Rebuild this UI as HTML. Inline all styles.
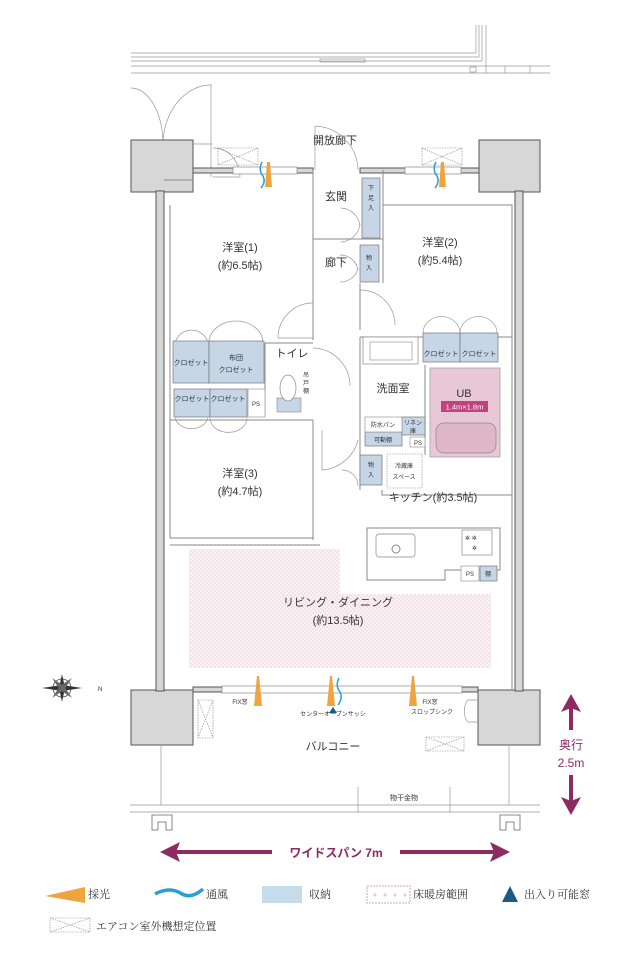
<!DOCTYPE html>
<html><head><meta charset="utf-8">
<style>
html,body{margin:0;padding:0;background:#fff;}
svg{display:block;font-family:"Liberation Sans","Noto Sans CJK JP",sans-serif;}
.t{font-size:11px;fill:#333;}
.s{font-size:7px;fill:#333;}
.ss{font-size:6px;fill:#333;}
.w{fill:#d7d7d7;stroke:#555;stroke-width:1;}
.l{stroke:#888;stroke-width:1;fill:none;}
.d{stroke:#999;stroke-width:0.7;fill:none;}
.b{fill:#c6d6e6;stroke:#777;stroke-width:0.7;}
.x{fill:none;stroke:#888;stroke-width:0.6;stroke-dasharray:1.5 1;}
</style></head><body>
<svg width="640" height="955" viewBox="0 0 640 955" xmlns="http://www.w3.org/2000/svg">
<defs>
<pattern id="pk" width="4" height="4" patternUnits="userSpaceOnUse"><rect width="4" height="4" fill="#fbf2f5"/><circle cx="1" cy="1" r="0.6" fill="#e3bccb"/><circle cx="3" cy="3" r="0.6" fill="#e3bccb"/></pattern>
<pattern id="pk2" width="10" height="10" patternUnits="userSpaceOnUse"><rect width="10" height="10" fill="#fff"/><circle cx="5" cy="5" r="1.5" fill="#e8c6d4"/></pattern>
</defs>

<!-- top corridor lines -->
<g class="d">
<line x1="131" y1="53" x2="476" y2="53"/><line x1="131" y1="57" x2="479" y2="57"/>
<line x1="131" y1="61" x2="482" y2="61"/><line x1="131" y1="66" x2="486" y2="66"/>
<line x1="131" y1="73" x2="550" y2="73"/><line x1="486" y1="66" x2="550" y2="66"/>
<line x1="476" y1="25" x2="476" y2="53"/><line x1="479" y1="25" x2="479" y2="57"/>
<line x1="482" y1="25" x2="482" y2="61"/><line x1="486" y1="25" x2="486" y2="73"/>
<rect x="320" y="59" width="45" height="3"/>
<line x1="505" y1="66" x2="505" y2="73"/><line x1="530" y1="66" x2="530" y2="73"/>
<rect x="470" y="67" width="6" height="5"/>
<!-- MB doors -->
<line x1="131" y1="144" x2="212" y2="144"/><line x1="211" y1="84" x2="211" y2="177"/>
<path d="M131 88 A32 56 0 0 1 163 144"/><path d="M211 85 A48 60 0 0 0 163 144"/>
<path d="M213 148 A26 30 0 0 1 240 177"/><line x1="213" y1="177" x2="240" y2="177"/>
</g>
<text class="s" x="177" y="162">MB</text>
<text class="t" x="313" y="144" font-size="10">開放廊下</text>

<!-- pillars -->
<rect class="w" x="131" y="140" width="62" height="52"/>
<rect class="w" x="479" y="140" width="61" height="52"/>
<rect class="w" x="131" y="690" width="62" height="55"/>
<rect class="w" x="478" y="690" width="62" height="55"/>
<!-- side walls -->
<rect class="w" x="156" y="191" width="8" height="500"/>
<rect class="w" x="515" y="191" width="8" height="500"/>
<!-- top wall -->
<rect class="w" x="193" y="168" width="120" height="5"/>
<rect class="w" x="360" y="168" width="119" height="5"/>
<rect x="233" y="167" width="64" height="7" fill="#fff" stroke="#888" stroke-width="0.7"/>
<rect x="405" y="167" width="56" height="7" fill="#fff" stroke="#888" stroke-width="0.7"/>
<rect class="x" x="218" y="148" width="40" height="17"/><path class="x" d="M218 148 L258 165 M258 148 L218 165"/>
<rect class="x" x="422" y="148" width="40" height="17"/><path class="x" d="M422 148 L462 165 M462 148 L422 165"/>
<!-- entrance door -->
<path class="d" d="M315 126 A45 45 0 0 1 358 170"/><line class="d" x1="315" y1="126" x2="315" y2="170"/>

<!-- bottom wall -->
<rect class="w" x="193" y="687" width="285" height="5"/>
<rect x="222" y="686" width="240" height="7" fill="#fff" stroke="#888" stroke-width="0.7"/>

<!-- interior lines -->
<g class="l">
<path d="M170 205 V538 H313 V420"/>
<path d="M164 180 H193"/>
<line x1="313" y1="170" x2="313" y2="340"/>
<line x1="383" y1="170" x2="383" y2="283"/>
<line x1="360" y1="283" x2="360" y2="330"/>
<line x1="313" y1="239" x2="383" y2="239"/>
<path d="M383 205 H512 V690"/>
<line x1="265" y1="343" x2="313" y2="343"/><line x1="265" y1="343" x2="265" y2="415"/>
<line x1="170" y1="420" x2="313" y2="420"/>
<line x1="313" y1="420" x2="313" y2="540"/>
<path d="M360 337 H512"/>
<line x1="360" y1="337" x2="360" y2="490"/>
<line x1="425" y1="365" x2="425" y2="455"/>
<path d="M382 490 V495 H512"/>
<path d="M367 528 H500 V570 H445 V580 H367 Z"/>
<line x1="170" y1="545" x2="320" y2="545"/>
</g>
<!-- door arcs -->
<g class="d">
<path d="M313 303 A35 35 0 0 0 278 338"/><line x1="278" y1="338" x2="313" y2="338"/>
<path d="M360 290 A35 35 0 0 1 395 325"/>
<path d="M341 208 A20 20 0 0 1 360 226"/><path d="M341 242 A20 20 0 0 0 360 224"/>
<path d="M340 255 A18 18 0 0 1 358 270"/><path d="M340 282 A18 18 0 0 0 358 268"/>
<path d="M313 348 A38 38 0 0 1 350 386"/>
<path d="M322 430 V470 A40 40 0 0 0 358 440"/>
<path d="M342 470 A16 16 0 0 1 358 486"/>
<path d="M175 343 A17 17 0 0 1 208 343"/><path d="M209 343 A27 22 0 0 1 263 343"/>
<path d="M175 418 A17 14 0 0 0 208 418"/><path d="M210 418 A18 14 0 0 0 247 418"/>
<path d="M423 333 A18 16 0 0 1 460 333"/><path d="M460 333 A18 16 0 0 1 497 333"/>
</g>

<!-- storage -->
<rect class="b" x="362" y="178" width="18" height="60"/>
<rect class="b" x="360" y="245" width="19" height="37"/>
<rect class="b" x="173" y="341" width="36" height="42"/><rect class="b" x="209" y="341" width="55" height="42"/>
<rect class="b" x="174" y="389" width="36" height="28"/><rect class="b" x="210" y="389" width="37" height="28"/>
<rect x="248" y="389" width="17" height="28" fill="#fff" stroke="#999" stroke-width="0.7"/>
<rect class="b" x="423" y="333" width="37" height="29"/><rect class="b" x="460" y="333" width="38" height="29"/>
<rect class="b" x="365" y="432" width="37" height="14"/>
<rect class="b" x="402" y="417" width="23" height="18"/>
<rect x="365" y="417" width="37" height="15" fill="#fff" stroke="#999" stroke-width="0.7"/>
<rect x="410" y="437" width="15" height="10" fill="#fff" stroke="#999" stroke-width="0.7"/>
<rect class="b" x="360" y="455" width="22" height="30"/>
<rect class="b" x="480" y="566" width="17" height="15"/>
<rect x="461" y="566" width="18" height="15" fill="#fff" stroke="#999" stroke-width="0.7"/>
<!-- fridge -->
<rect class="x" x="387" y="454" width="35" height="34"/>
<!-- washbasin -->
<rect x="363" y="337" width="55" height="27" fill="#fff" stroke="#888" stroke-width="0.7"/>
<rect x="370" y="342" width="42" height="18" fill="none" stroke="#999" stroke-width="0.7"/>
<!-- UB -->
<rect x="430" y="368" width="70" height="89" fill="#e8c8d6" stroke="#999" stroke-width="0.7"/>
<rect x="436" y="423" width="60" height="30" rx="8" fill="#e0b7c8" stroke="#888" stroke-width="0.7"/>
<rect x="441" y="401" width="47" height="11" fill="#c0437c"/>
<text x="464.5" y="409.5" font-size="7.5" fill="#fff" text-anchor="middle">1.4m×1.8m</text>
<text class="t" x="464" y="397" text-anchor="middle" font-size="12">UB</text>
<!-- toilet -->
<rect x="277" y="398" width="24" height="14" fill="#c6d6e6" stroke="#888" stroke-width="0.6"/>
<ellipse cx="288" cy="388" rx="8" ry="13" fill="#fff" stroke="#888" stroke-width="0.7"/>
<!-- sink/stove -->
<rect x="376" y="534" width="39" height="23" rx="3" fill="#fff" stroke="#888" stroke-width="0.7"/>
<circle cx="396" cy="549" r="4" fill="none" stroke="#888"/>
<rect x="462" y="530" width="30" height="25" fill="#fff" stroke="#888" stroke-width="0.7"/>
<text class="ss" x="465" y="540">✲ ✲</text><text class="ss" x="472" y="550">✲</text>

<!-- floor heating -->
<path d="M189 549 H340 V594 H491 V668 H189 Z" fill="url(#pk)"/>

<!-- light/wind -->
<g fill="#f0a440">
<polygon points="267,162 270,162 272,187 265,187"/>
<polygon points="441,162 444,162 446,187 439,187"/>
<polygon points="257,676 259,676 262,706 254,706"/>
<polygon points="330,676 332,676 335,706 327,706"/>
<polygon points="412,676 414,676 417,706 409,706"/>
</g>
<path d="M262 162 Q258 170 263 176 Q266 182 261 188" stroke="#2a9fd6" stroke-width="1.5" fill="none"/>
<path d="M436 162 Q432 170 437 176 Q440 182 435 188" stroke="#2a9fd6" stroke-width="1.5" fill="none"/>
<path d="M339 678 Q335 686 340 692 Q343 698 338 705" stroke="#2a9fd6" stroke-width="1.5" fill="none"/>
<polygon points="333,707 337,713 329,713" fill="#1a5a86"/>

<!-- balcony -->
<g class="d">
<rect class="x" x="198" y="700" width="15" height="38"/><path class="x" d="M198 700 L213 738 M213 700 L198 738"/>
<rect class="x" x="426" y="737" width="38" height="14"/><path class="x" d="M426 737 L464 751 M464 737 L426 751"/>
<path d="M478 700 H468 A6 12 0 0 0 468 722 H478"/>
<line x1="130" y1="805" x2="540" y2="805"/><line x1="130" y1="812" x2="540" y2="812"/>
<line x1="161" y1="745" x2="161" y2="805"/><line x1="509" y1="745" x2="509" y2="805"/>
<line x1="358" y1="787" x2="358" y2="812"/><line x1="450" y1="787" x2="450" y2="812"/>
</g>
<path d="M152 830 V815 H172 V830 H166 V822 H158 V830 Z" fill="#fff" stroke="#666" stroke-width="0.8"/>
<path d="M500 830 V815 H520 V830 H514 V822 H506 V830 Z" fill="#fff" stroke="#666" stroke-width="0.8"/>

<!-- labels -->
<text class="t" x="240" y="251" text-anchor="middle">洋室(1)</text>
<text class="t" x="240" y="269" text-anchor="middle">(約6.5帖)</text>
<text class="t" x="440" y="246" text-anchor="middle">洋室(2)</text>
<text class="t" x="440" y="264" text-anchor="middle">(約5.4帖)</text>
<text class="t" x="336" y="200" text-anchor="middle">玄関</text>
<text class="t" x="336" y="266" text-anchor="middle">廊下</text>
<text class="ss" x="371" y="190" text-anchor="middle">下</text><text class="ss" x="371" y="200" text-anchor="middle">足</text><text class="ss" x="371" y="210" text-anchor="middle">入</text>
<text class="ss" x="369" y="260" text-anchor="middle">物</text><text class="ss" x="369" y="270" text-anchor="middle">入</text>
<text class="s" x="191" y="365" text-anchor="middle" font-size="6.5">クロゼット</text>
<text class="s" x="236" y="360" text-anchor="middle" font-size="6.5">布団</text>
<text class="s" x="236" y="372" text-anchor="middle" font-size="6.5">クロゼット</text>
<text class="s" x="192" y="401" text-anchor="middle" font-size="6.5">クロゼット</text>
<text class="s" x="228" y="401" text-anchor="middle" font-size="6.5">クロゼット</text>
<text class="ss" x="256" y="406" text-anchor="middle">PS</text>
<text class="t" x="292" y="357" text-anchor="middle" font-size="10">トイレ</text>
<text class="ss" x="306" y="377" text-anchor="middle">吊</text><text class="ss" x="306" y="385" text-anchor="middle">戸</text><text class="ss" x="306" y="393" text-anchor="middle">棚</text>
<text class="s" x="441" y="356" text-anchor="middle" font-size="6.5">クロゼット</text>
<text class="s" x="479" y="356" text-anchor="middle" font-size="6.5">クロゼット</text>
<text class="t" x="393" y="392" text-anchor="middle">洗面室</text>
<text class="ss" x="383" y="427" text-anchor="middle">防水パン</text>
<text class="ss" x="383" y="442" text-anchor="middle">可動棚</text>
<text class="ss" x="413" y="425" text-anchor="middle">リネン</text><text class="ss" x="413" y="433" text-anchor="middle">庫</text>
<text class="ss" x="418" y="445" text-anchor="middle">PS</text>
<text class="ss" x="371" y="467" text-anchor="middle">物</text><text class="ss" x="371" y="477" text-anchor="middle">入</text>
<text class="ss" x="404" y="468" text-anchor="middle">冷蔵庫</text><text class="ss" x="404" y="479" text-anchor="middle">スペース</text>
<text class="t" x="433" y="501" text-anchor="middle">キッチン(約3.5帖)</text>
<text class="ss" x="470" y="576" text-anchor="middle">PS</text>
<text class="ss" x="488" y="576" text-anchor="middle">棚</text>
<text class="t" x="240" y="477" text-anchor="middle">洋室(3)</text>
<text class="t" x="240" y="495" text-anchor="middle">(約4.7帖)</text>
<text class="t" x="338" y="606" text-anchor="middle">リビング・ダイニング</text>
<text class="t" x="338" y="624" text-anchor="middle">(約13.5帖)</text>
<text class="ss" x="240" y="704" text-anchor="middle">FIX窓</text>
<text class="ss" x="333" y="716" text-anchor="middle">センターオープンサッシ</text>
<text class="ss" x="430" y="704" text-anchor="middle">FIX窓</text>
<text class="ss" x="432" y="714" text-anchor="middle">スロップシンク</text>
<text class="t" x="333" y="750" text-anchor="middle">バルコニー</text>
<text class="s" x="404" y="800" text-anchor="middle">物干金物</text>

<!-- compass -->
<g transform="translate(62,688)">
<circle r="9" fill="none" stroke="#444" stroke-width="0.8"/>
<polygon points="-20,0 0,-3 20,0 0,3" fill="#333"/>
<polygon points="0,-14 -3,0 0,14 3,0" fill="#333"/>
<polygon points="-10,-10 2,-2 10,10 -2,2" fill="#666"/>
<polygon points="10,-10 2,2 -10,10 -2,-2" fill="#666"/>
</g>
<text class="ss" x="98" y="691">N</text>

<!-- dimension arrows -->
<g fill="#8e2a62" stroke="#8e2a62">
<line x1="172" y1="852" x2="272" y2="852" stroke-width="4"/>
<line x1="400" y1="852" x2="500" y2="852" stroke-width="4"/>
<polygon points="160,852 180,842 176,852 180,862" stroke="none"/>
<polygon points="510,852 490,842 494,852 490,862" stroke="none"/>
<line x1="571" y1="705" x2="571" y2="730" stroke-width="4"/>
<line x1="571" y1="775" x2="571" y2="805" stroke-width="4"/>
<polygon points="571,694 561,712 571,708 581,712" stroke="none"/>
<polygon points="571,815 561,797 571,801 581,797" stroke="none"/>
</g>
<text x="336" y="857" font-size="12" fill="#8e2a62" text-anchor="middle" font-weight="bold">ワイドスパン 7m</text>
<text x="571" y="749" font-size="12" fill="#8e2a62" text-anchor="middle">奥行</text>
<text x="571" y="767" font-size="12" fill="#8e2a62" text-anchor="middle">2.5m</text>

<!-- legend -->
<polygon points="45,896 85,887 85,903" fill="#f0a440"/>
<text class="t" x="88" y="898" font-family="Liberation Serif,Noto Serif CJK SC,serif" font-size="10">採光</text>
<path d="M155 894 Q170 886 182 894 Q192 899 203 889" stroke="#2a9fd6" stroke-width="3.5" fill="none"/>
<text class="t" x="206" y="898" font-family="Liberation Serif,Noto Serif CJK SC,serif" font-size="10">通風</text>
<rect x="262" y="886" width="40" height="17" fill="#c6dceb"/>
<text class="t" x="309" y="898" font-family="Liberation Serif,Noto Serif CJK SC,serif" font-size="10">収納</text>
<rect x="367" y="886" width="43" height="17" fill="url(#pk2)" stroke="#c88aa6" stroke-width="0.8" stroke-dasharray="2 1"/>
<text class="t" x="413" y="898" font-family="Liberation Serif,Noto Serif CJK SC,serif" font-size="10">床暖房範囲</text>
<polygon points="510,886 502,902 518,902" fill="#1a5a86"/>
<text class="t" x="524" y="898" font-family="Liberation Serif,Noto Serif CJK SC,serif" font-size="10">出入り可能窓</text>
<rect class="x" x="50" y="918" width="40" height="14"/><path class="x" d="M50 918 L90 932 M90 918 L50 932"/>
<text class="t" x="96" y="930" font-family="Liberation Serif,Noto Serif CJK SC,serif" font-size="10">エアコン室外機想定位置</text>
</svg>
</body></html>
